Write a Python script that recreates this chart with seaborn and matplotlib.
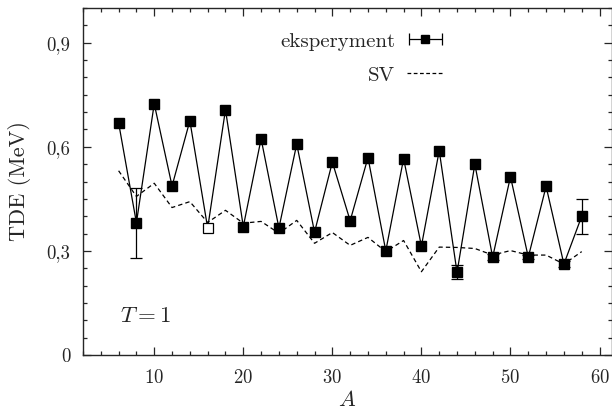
import numpy as np
import matplotlib
matplotlib.use("Agg")
import matplotlib.pyplot as plt
import seaborn as sns
from matplotlib.ticker import MultipleLocator, FuncFormatter
from matplotlib.container import ErrorbarContainer
from matplotlib.legend_handler import HandlerErrorbar

# dane
A = [6, 8, 10, 12, 14, 16, 18, 20, 22, 24, 26, 28, 30, 32, 34, 36,
     38, 40, 42, 44, 46, 48, 50, 52, 54, 56, 58]
tde_exp = [0.669, 0.381, 0.724, 0.487, 0.675, 0.366, 0.707, 0.370, 0.623,
           0.366, 0.608, 0.354, 0.556, 0.387, 0.569, 0.300, 0.566, 0.314,
           0.589, 0.238, 0.550, 0.282, 0.514, 0.282, 0.486, 0.262, 0.400]
tde_err = [0.0, 0.10, 0.0, 0.0, 0.0, 0.0, 0.0, 0.0, 0.0, 0.0, 0.0, 0.0,
           0.0, 0.0, 0.0, 0.0, 0.0, 0.0, 0.0, 0.02, 0.0, 0.008, 0.0, 0.006,
           0.0, 0.008, 0.05]
tde_sv = [0.531, 0.457, 0.495, 0.425, 0.442, 0.382, 0.417, 0.380, 0.385,
          0.351, 0.388, 0.322, 0.353, 0.316, 0.339, 0.298, 0.330, 0.240,
          0.311, 0.310, 0.307, 0.288, 0.301, 0.288, 0.288, 0.262, 0.298]
open_A = [16]

sns.set_theme(style="ticks")
plt.rcParams['font.family'] = ['cmr10', 'DejaVu Serif']
plt.rcParams['mathtext.fontset'] = 'cm'
plt.rcParams['axes.formatter.use_mathtext'] = True

fig = plt.figure(figsize=(6.12, 4.13), dpi=100)
ax = fig.add_axes([0.1356, 0.1404, 0.8644, 0.8402])

sns.lineplot(x=A, y=tde_sv, ax=ax, color='black', lw=0.9,
             linestyle=(0, (3.5, 2.5)), label='_nolegend_')
sns.lineplot(x=A, y=tde_exp, ax=ax, color='black', lw=0.9,
             label='_nolegend_')

# słupki błędów tylko tam, gdzie są
ea = [a for a, e in zip(A, tde_err) if e > 0]
ev = [v for v, e in zip(tde_exp, tde_err) if e > 0]
ee = [e for e in tde_err if e > 0]
ax.errorbar(ea, ev, yerr=ee, fmt='none', ecolor='black', capsize=4,
            elinewidth=0.9, capthick=0.9, zorder=4)

fa = [a for a in A if a not in open_A]
fv = [v for a, v in zip(A, tde_exp) if a not in open_A]
ax.plot(fa, fv, 's', color='black', ms=7.5, zorder=5)
ha = [a for a in A if a in open_A]
hv = [v for a, v in zip(A, tde_exp) if a in open_A]
ax.plot(ha, hv, 's', mfc='white', mec='black', ms=7.5, mew=0.9, zorder=5)

# uchwyty legendy
h_exp = ax.errorbar([np.nan], [np.nan], xerr=[1], fmt='s', color='black',
                    ms=6, capsize=4, elinewidth=0.9, capthick=0.9,
                    label='eksperyment')
h_sv, = ax.plot([np.nan], [np.nan], color='black', lw=0.9,
                linestyle=(0, (3, 2)), label='SV')
leg = ax.legend(handles=[h_exp, h_sv], loc='upper right',
                bbox_to_anchor=(0.718, 0.985), frameon=False,
                markerfirst=False, fontsize=15, handlelength=1.8,
                handletextpad=0.55, labelspacing=0.75,
                handler_map={ErrorbarContainer: HandlerErrorbar(xerr_size=0.8)})

ax.text(0.07, 0.112, r'$T = 1$', transform=ax.transAxes, fontsize=16.5,
        va='center')

ax.set_xlim(2, 61.4)
ax.set_ylim(0, 1.0)
ax.xaxis.set_major_locator(MultipleLocator(10))
ax.xaxis.set_minor_locator(MultipleLocator(2))
ax.yaxis.set_major_locator(MultipleLocator(0.3))
ax.yaxis.set_minor_locator(MultipleLocator(0.05))
ax.yaxis.set_major_formatter(FuncFormatter(
    lambda v, p: '0' if abs(v) < 1e-9 else f'{v:.1f}'.replace('.', ',')))
ax.tick_params(which='both', direction='in', top=True, right=True,
               labelsize=13.5, width=0.9)
ax.tick_params(axis='x', pad=10)
ax.tick_params(axis='y', pad=9)
ax.tick_params(which='major', length=6)
ax.tick_params(which='minor', length=3)
for s in ax.spines.values():
    s.set_linewidth(1.0)

ax.set_xlabel(r'$A$', fontsize=16, labelpad=2)
ax.set_ylabel('TDE (MeV)', fontsize=16, labelpad=11)

fig.savefig('out.png', dpi=100)
